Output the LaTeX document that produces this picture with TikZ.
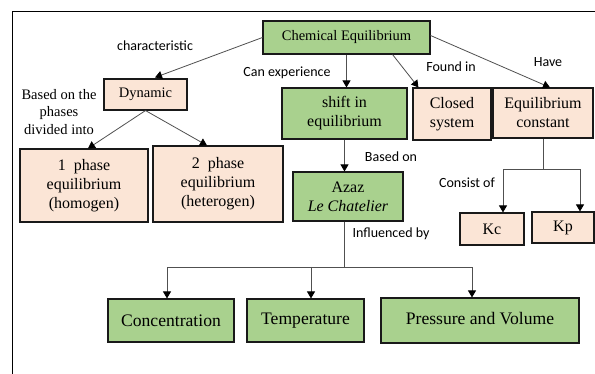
\documentclass[tikz,border=0pt]{standalone}
\usepackage{fontspec}
\setmainfont{Liberation Serif}
\newfontfamily\lblfont{Carlito}
\usetikzlibrary{arrows.meta,calc}
\definecolor{gfill}{HTML}{A9D18E}
\definecolor{pfill}{HTML}{FBE5D6}
\definecolor{lgray}{HTML}{505050}
\tikzset{
  box/.style={draw=black!90, line width=1.1pt, align=center, inner sep=0pt, anchor=center},
  gbox/.style={box, fill=gfill},
  pbox/.style={box, fill=pfill},
  fa/.style={font=\fontsize{14.5}{17}\selectfont},
  fb/.style={font=\fontsize{16}{19}\selectfont},
  fc/.style={font=\fontsize{17.6}{20}\selectfont},
  lab/.style={font=\lblfont\fontsize{14}{16}\selectfont, inner sep=0pt, anchor=center},
  conn/.style={draw=lgray, line width=0.8pt},
  arr/.style={conn, -{Triangle[width=8pt,length=7pt,color=black,fill=black]}},
}
\begin{document}
\begin{tikzpicture}[x=1pt,y=-1pt]
\useasboundingbox (0,0) rectangle (595,374);
\fill[white] (0,0) rectangle (595,374);
% frame
\draw[black, line width=1pt] (12,374) -- (12,12) -- (595,12);

% nodes
\node[gbox, fa, minimum width=167pt, minimum height=33pt] (chem) at (346.5,37.5) {Chemical Equilibrium};
\node[pbox, fa, minimum width=83pt, minimum height=31pt] (dyn) at (145.5,94.5) {Dynamic};
\node[pbox, fb, minimum width=128pt, minimum height=73pt] (p1) at (84,185.5) {1~ phase\\equilibrium\\(homogen)};
\node[pbox, fb, minimum width=130pt, minimum height=76pt] (p2) at (218,184) {2~ phase\\equilibrium\\(heterogen)};
\node[gbox, fb, minimum width=125pt, minimum height=51pt] (shift) at (344.5,113.5) {shift in\\equilibrium};
\node[pbox, fb, minimum width=78pt, minimum height=52pt] (closed) at (452,114) {Closed\\system};
\node[pbox, fb, minimum width=100pt, minimum height=50pt] (eqc) at (543,113) {Equilibrium\\constant};
\node[gbox, fb, minimum width=110pt, minimum height=49pt] (azaz) at (348,196.5) {Azaz\\\textit{Le Chatelier}};
\node[pbox, fb, minimum width=64pt, minimum height=32pt] (kc) at (492,229) {Kc};
\node[pbox, fb, minimum width=62pt, minimum height=31pt] (kp) at (563,227.5) {Kp};
\node[gbox, fc, minimum width=126pt, minimum height=43pt] (conc) at (171,320.5) {Concentration};
\node[gbox, fc, minimum width=117pt, minimum height=43pt] (temp) at (305.5,320.5) {Temperature};
\node[gbox, fc, minimum width=198pt, minimum height=45pt] (press) at (480,320.5) {\raisebox{5pt}{Pressure and Volume}};

% labels
\node[lab] (l1) at (155,46) {characteristic};
\node[lab] (l2) at (287,73) {Can experience};
\node[lab] (l3) at (451,67) {Found in};
\node[lab] (l4) at (548,62) {Have};
\node[lab] (l5) at (391,157) {Based on};
\node[lab] (l6) at (391,234) {Influenced by};
\node[lab] (l7) at (467,183) {Consist of};
\node[align=center, inner sep=0pt, font=\fontsize{14.5}{17.5}\selectfont] (l8) at (59,112) {Based on the\\phases\\divided into};

% connectors
\draw[arr] (chem.west) -- ($(dyn.north)+(9.5,-1)$);
\draw[arr] (dyn.south) -- ($(p1.north)+(4,0)$);
\draw[arr] (dyn.south) -- ($(p2.north)+(-11,0)$);
\draw[arr] (chem.south) -- (chem.south |- shift.north);
\draw[arr] ($(chem.south east)+(-38,0)$) -- ($(closed.north west)+(6,0)$);
\draw[arr] ($(chem.east)+(0,-2)$) -- ($(eqc.north)+(7,0)$);
\draw[arr] (shift.south) -- (shift.south |- azaz.north);

\coordinate (k0) at (543,169);
\coordinate (k1) at (503,169);
\coordinate (k2) at (580,169);
\draw[conn] (eqc.south) -- (k0);
\draw[arr] (k0) -- (k1) -- (k1 |- kc.north);
\draw[arr] (k0) -- (k2) -- (k2 |- kp.north);

\coordinate (b0) at (344,267);
\coordinate (b1) at (167,267);
\coordinate (b2) at (311,267);
\coordinate (b3) at (472,267);
\draw[conn] (azaz.south -| b0) -- (b0);
\draw[arr] (b0) -- (b1) -- (b1 |- conc.north);
\draw[arr] (b2) -- (b2 |- temp.north);
\draw[arr] (b0) -- (b3) -- (b3 |- press.north);
\end{tikzpicture}
\end{document}
